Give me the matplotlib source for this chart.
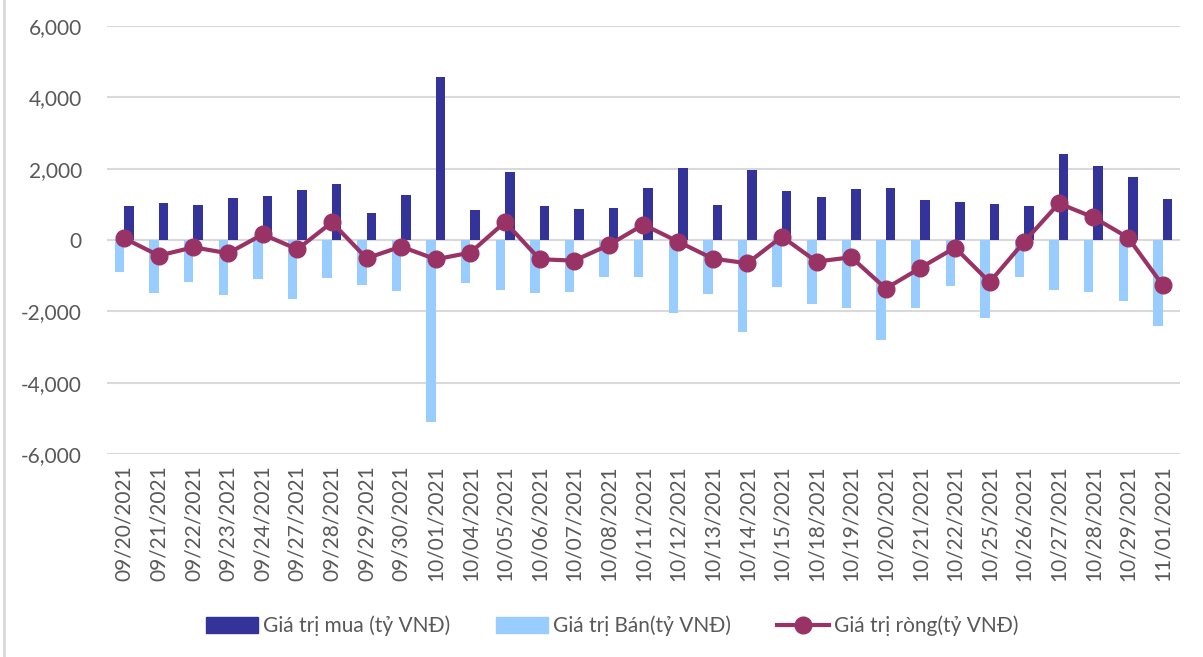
import matplotlib.pyplot as plt
import numpy as np
from matplotlib.lines import Line2D

dates = ['09/20/2021', '09/21/2021', '09/22/2021', '09/23/2021', '09/24/2021',
         '09/27/2021', '09/28/2021', '09/29/2021', '09/30/2021', '10/01/2021',
         '10/04/2021', '10/05/2021', '10/06/2021', '10/07/2021', '10/08/2021',
         '10/11/2021', '10/12/2021', '10/13/2021', '10/14/2021', '10/15/2021',
         '10/18/2021', '10/19/2021', '10/20/2021', '10/21/2021', '10/22/2021',
         '10/25/2021', '10/26/2021', '10/27/2021', '10/28/2021', '10/29/2021',
         '11/01/2021']

# buy value (ty VND)
mua = [951, 1026, 979, 1184, 1240, 1399, 1557, 746, 1249, 4578,
       848, 1893, 942, 867, 895, 1464, 2005, 988, 1949, 1371,
       1193, 1436, 1455, 1119, 1063, 998, 951, 2415, 2061, 1762,
       1147]

# sell value (negative)
ban = [-904, -1473, -1184, -1548, -1082, -1650, -1072, -1249, -1427, -5110,
       -1193, -1399, -1473, -1445, -1026, -1044, -2051, -1520, -2592, -1305,
       -1809, -1911, -2816, -1921, -1277, -2191, -1026, -1399, -1455, -1697,
       -2424]

# net value
rong = [47, -438, -205, -373, 159, -261, 494, -513, -186, -541,
        -354, 503, -541, -578, -140, 429, -47, -522, -653, 93,
        -606, -485, -1361, -783, -214, -1184, -47, 1026, 634, 65,
        -1268]

c_mua = '#333399'
c_ban = '#99CCFF'
c_rong = '#993366'
txt = '#595959'

plt.rcParams['font.family'] = ['Lato', 'DejaVu Sans']

fig = plt.figure(figsize=(12.03, 6.57), dpi=100)
ax = fig.add_axes([0.0889, 0.309, 0.892, 0.6515])

x = np.arange(len(dates))
w = 0.275
ax.bar(x - w / 2, ban, width=w, color=c_ban, zorder=2)
ax.bar(x + w / 2, mua, width=w, color=c_mua, zorder=2)
ax.plot(x, rong, color=c_rong, linewidth=3, marker='o', markersize=12, zorder=3)

ax.set_xlim(-0.5, len(dates) - 0.5)
ax.set_ylim(-6000, 6000)
ax.set_yticks(range(-6000, 6001, 2000))
ax.set_yticklabels([f'{v:,}' for v in range(-6000, 6001, 2000)])
ax.set_xticks(x)
ax.set_xticklabels(dates, rotation=90)
ax.tick_params(length=0, labelsize=15, colors=txt)
ax.tick_params(axis='y', pad=18)
ax.tick_params(axis='x', pad=8)
ax.grid(axis='y', color='#D9D9D9', linewidth=1.5, zorder=0)
for s in ax.spines.values():
    s.set_visible(False)

handles = [
    plt.Rectangle((0, 0), 1, 1, color=c_mua),
    plt.Rectangle((0, 0), 1, 1, color=c_ban),
    Line2D([], [], color=c_rong, linewidth=3, marker='o', markersize=12),
]
labels = ['Giá trị mua (tỷ VNĐ)', 'Giá trị Bán(tỷ VNĐ)', 'Giá trị ròng(tỷ VNĐ)']
leg = fig.legend(handles, labels, loc='center', bbox_to_anchor=(0.509, 0.047), ncol=3,
                 frameon=False, fontsize=15, handlelength=2.5, handleheight=0.8,
                 handletextpad=0.25, columnspacing=2.2)
for t in leg.get_texts():
    t.set_color(txt)

# chart frame edge on the left
fig.add_artist(Line2D([0.0037, 0.0037], [0, 1], color='#D9D9D9', linewidth=2,
                      transform=fig.transFigure))

fig.savefig('out.png', dpi=100)
